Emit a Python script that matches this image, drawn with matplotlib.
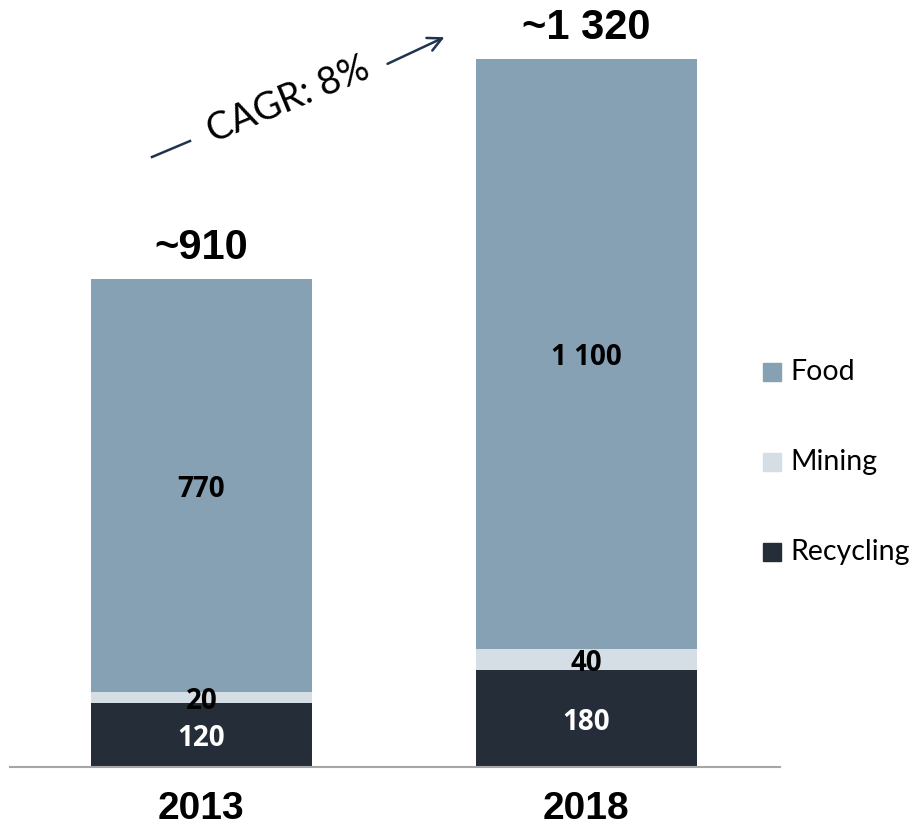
import matplotlib.pyplot as plt
from matplotlib.patches import Rectangle

# data
years = ['2013', '2018']
recycling = [120, 180]
mining = [20, 40]
food = [770, 1100]
totals = ['~910', '~1 320']
seg_labels = {'recycling': ['120', '180'], 'mining': ['20', '40'], 'food': ['770', '1 100']}
legend_names = ['Food', 'Mining', 'Recycling']
cagr_text = 'CAGR: 8%'

c_food = '#87a1b4'
c_mining = '#d6dee5'
c_rec = '#252e38'

W, H = 911, 826
fig = plt.figure(figsize=(W / 100, H / 100), dpi=100)
ax = fig.add_axes([0, 0, 1, 1])
ax.set_xlim(-0.523, -0.523 + W / 385)
ax.set_ylim(-110, 1430)
ax.axis('off')

def fpx(x, y):
    # pixel (from top-left) -> figure fraction
    return x / W, 1 - y / H

x = [0, 1]
bw = 0.574
ax.bar(x, recycling, bw, color=c_rec)
ax.bar(x, mining, bw, bottom=recycling, color=c_mining)
bot2 = [r + m for r, m in zip(recycling, mining)]
ax.bar(x, food, bw, bottom=bot2, color=c_food)

# baseline
ax.axhline(0, xmin=10 / W, xmax=780 / W, color='#a6a6a6', lw=1.5)

num_font = dict(family='Open Sans', fontweight='bold', fontsize=20)
dy = -7  # small nudge so labels sit like the original
for i in range(2):
    ax.text(x[i], recycling[i] / 2 + dy, seg_labels['recycling'][i], ha='center', va='center', color='white', **num_font)
    ax.text(x[i], recycling[i] + mining[i] / 2 + dy, seg_labels['mining'][i], ha='center', va='center', color='black', **num_font)
    ax.text(x[i], bot2[i] + food[i] / 2 + dy, seg_labels['food'][i], ha='center', va='center', color='black', **num_font)
    tot = bot2[i] + food[i]
    ax.text(x[i], tot + 57, totals[i], ha='center', va='center', family='Liberation Sans',
            fontweight='bold', fontsize=30, color='black')
    ax.text(x[i], -78, years[i], ha='center', va='center', family='Liberation Sans',
            fontweight='bold', fontsize=28, color='black')

# CAGR arrow
line_c = '#1f3450'
fig.add_artist(plt.Line2D(*zip(fpx(152, 157), fpx(190, 141)), transform=fig.transFigure, color=line_c, lw=1.8))
ax.annotate('', xy=fpx(447, 36), xytext=fpx(385, 65), xycoords='figure fraction', textcoords='figure fraction',
            arrowprops=dict(arrowstyle='->', color=line_c, lw=1.8, mutation_scale=25))
fig.text(*fpx(288, 100), cagr_text, rotation=22.5, ha='center', va='center', family='Lato',
         fontsize=27, color='black', rotation_mode='anchor')

# legend
for i, (name, col) in enumerate(zip(legend_names, [c_food, c_mining, c_rec])):
    yc = 372 + 90 * i
    x0, y0 = fpx(763, yc + 9)
    fig.add_artist(Rectangle((x0, y0), 18 / W, 18 / H, transform=fig.transFigure, color=col))
    fig.text(*fpx(790, yc), name, ha='left', va='center', family='Lato', fontsize=20.5, color='black')

fig.savefig('out.png', dpi=100)
